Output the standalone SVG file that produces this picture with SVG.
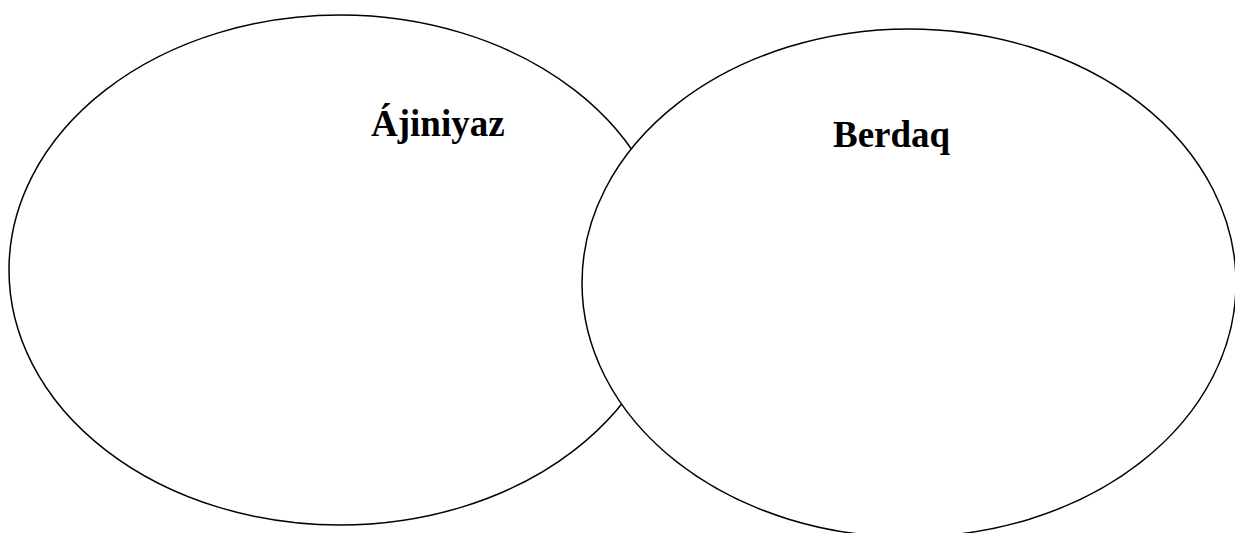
<svg xmlns="http://www.w3.org/2000/svg" width="1235" height="533" viewBox="0 0 1235 533">
<style>
.ell{fill:#fff;stroke:#000;stroke-width:1.5}
.lbl{font-family:"Liberation Serif","Times New Roman",serif;font-weight:bold;font-size:37px;fill:#000}
</style>
<rect width="1235" height="533" fill="#fff"/>
<g id="node-ajiniyaz">
<ellipse class="ell" cx="340" cy="270" rx="331" ry="255"/>
<text class="lbl" x="371" y="136">Ájiniyaz</text>
</g>
<g id="node-berdaq">
<ellipse class="ell" cx="909" cy="283" rx="327" ry="254"/>
<text class="lbl" x="833" y="147">Berdaq</text>
</g>
<g id="connectors"></g>
</svg>
